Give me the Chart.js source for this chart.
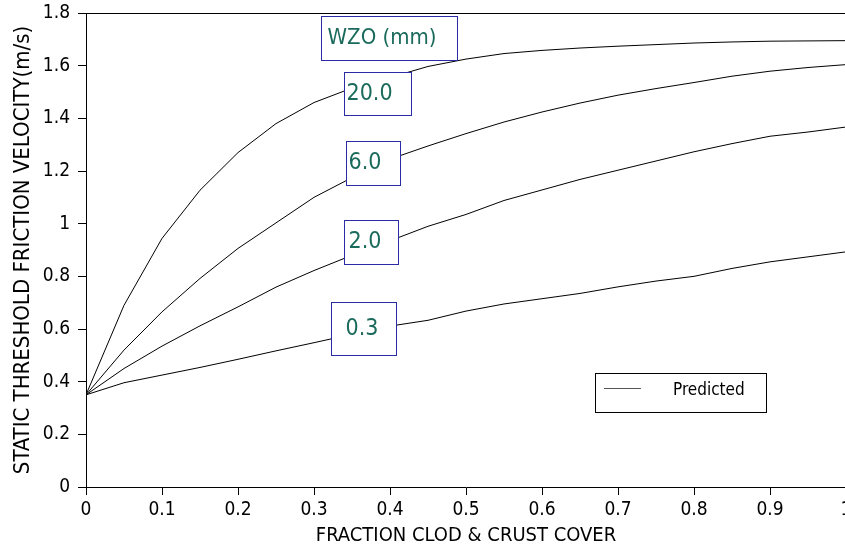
<!DOCTYPE html>
<html>
<head>
<meta charset="utf-8">
<script src="https://cdn.jsdelivr.net/npm/chart.js@4"></script>
<style>
  html, body { margin: 0; padding: 0; background: #fff; overflow: hidden; }
  #wrap { position: absolute; left: 0; top: 0; width: 880px; height: 548px; }
</style>
</head>
<body>
<div id="wrap"><canvas id="chart"></canvas></div>
<script>
// fraction clod & crust cover (x knots of the plotted curves)
const cover = [0, 0.05, 0.1, 0.15, 0.2, 0.25, 0.3, 0.35, 0.4, 0.45, 0.5,
  0.55, 0.6, 0.65, 0.7, 0.75, 0.8, 0.85, 0.9, 0.95, 1]

// static threshold friction velocity (m/s), one list per WZO
const wzo20 = [0.35, 0.69, 0.944, 1.127, 1.27, 1.38, 1.46, 1.515, 1.555, 1.597, 1.625,
  1.646, 1.658, 1.667, 1.674, 1.68, 1.686, 1.69, 1.693, 1.694, 1.695]
const wzo6 = [0.35, 0.52, 0.665, 0.792, 0.906, 1.003, 1.1, 1.175, 1.245, 1.295, 1.342,
  1.386, 1.424, 1.458, 1.488, 1.513, 1.536, 1.56, 1.579, 1.593, 1.604]
const wzo2 = [0.35, 0.45, 0.535, 0.612, 0.684, 0.759, 0.822, 0.88, 0.935, 0.99, 1.035,
  1.088, 1.128, 1.168, 1.203, 1.238, 1.273, 1.304, 1.332, 1.348, 1.367]
const wzo03 = [0.35, 0.396, 0.425, 0.454, 0.485, 0.517, 0.548, 0.58, 0.611, 0.633, 0.668,
  0.695, 0.715, 0.735, 0.76, 0.782, 0.8, 0.83, 0.855, 0.874, 0.893]

const curveLabels = ['20.0', '6.0', '2.0', '0.3']

const xTicks = [0, 0.1, 0.2, 0.3, 0.4, 0.5, 0.6, 0.7, 0.8, 0.9, 1]
const xTickLabels = ['0', '0.1', '0.2', '0.3', '0.4', '0.5', '0.6', '0.7', '0.8', '0.9', '1']
const yTicks = [0, 0.2, 0.4, 0.6, 0.8, 1, 1.2, 1.4, 1.6, 1.8]
const yTickLabels = ['0', '0.2', '0.4', '0.6', '0.8', '1', '1.2', '1.4', '1.6', '1.8']

const FONT = "'DejaVu Sans Condensed', 'DejaVu Sans', sans-serif"

// annotation boxes: top-left corner in data units, size in px
const labelBoxes = [
  { text: 'WZO (mm)', x: 0.309, y: 1.789, w: 136, h: 44, dx: 6, size: 22 },
  { text: curveLabels[0], x: 0.339, y: 1.576, w: 67, h: 43, dx: 2, size: 23 },
  { text: curveLabels[1], x: 0.342, y: 1.314, w: 54, h: 44, dx: 2, size: 23 },
  { text: curveLabels[2], x: 0.339, y: 1.014, w: 54, h: 44, dx: 4, size: 23 },
  { text: curveLabels[3], x: 0.322, y: 0.703, w: 65, h: 53, dx: 14, size: 23 },
]

const notes = {
  id: 'notes',
  afterDatasetsDraw(chart) {
    const { ctx, chartArea, scales: { x, y } } = chart
    ctx.save()
    ctx.lineWidth = 1
    ctx.strokeStyle = '#000'
    ctx.beginPath()
    ctx.moveTo(chartArea.left, chartArea.top + 0.5)
    ctx.lineTo(chartArea.right, chartArea.top + 0.5)
    ctx.stroke()

    for (const b of labelBoxes) {
      const left = Math.round(x.getPixelForValue(b.x)) + 0.5
      const top = Math.round(y.getPixelForValue(b.y)) + 0.5
      ctx.fillStyle = '#fff'
      ctx.fillRect(left, top, b.w, b.h)
      ctx.strokeStyle = '#2b2ba6'
      ctx.strokeRect(left, top, b.w, b.h)
      ctx.fillStyle = '#1b6b5c'
      ctx.font = `${b.size}px ${FONT}`
      ctx.textAlign = 'left'
      ctx.textBaseline = 'middle'
      ctx.fillText(b.text, left + b.dx, top + b.h / 2)
    }

    // legend box
    ctx.strokeStyle = '#000'
    ctx.strokeRect(595.5, 373.5, 171, 39)
    ctx.strokeStyle = '#555'
    ctx.beginPath()
    ctx.moveTo(604, 388.5)
    ctx.lineTo(641, 388.5)
    ctx.stroke()
    ctx.fillStyle = '#000'
    ctx.font = `17px ${FONT}`
    ctx.textBaseline = 'middle'
    ctx.fillText('Predicted', 673, 391)
    ctx.restore()
  },
}

const series = [wzo20, wzo6, wzo2, wzo03]

new Chart(document.getElementById('chart'), {
  type: 'line',
  data: {
    datasets: series.map((vals, i) => ({
      label: 'WZO ' + curveLabels[i],
      data: cover.map((c, j) => ({ x: c, y: vals[j] })),
      borderColor: '#000',
      borderWidth: 1,
      pointRadius: 0,
      tension: 0,
      fill: false,
    })),
  },
  options: {
    responsive: true,
    maintainAspectRatio: false,
    animation: false,
    layout: { padding: { left: 0, right: 34, top: 13, bottom: 0 } },
    plugins: { legend: { display: false }, tooltip: { enabled: false } },
    scales: {
      x: {
        type: 'linear',
        min: 0,
        max: 1,
        afterBuildTicks: s => { s.ticks = xTicks.map(v => ({ value: v })) },
        afterFit: s => { s.height = 61; s.paddingLeft = 0; s.paddingRight = 0 },
        ticks: {
          callback: (v, i) => xTickLabels[i],
          font: { family: FONT, size: 19 },
          color: '#000',
          padding: 4,
          maxRotation: 0,
          autoSkip: false,
        },
        grid: { drawOnChartArea: false, tickLength: 8, color: '#000' },
        border: { color: '#000', width: 1 },
        title: {
          display: true,
          text: 'FRACTION CLOD & CRUST COVER',
          font: { family: FONT, size: 20 },
          color: '#000',
          padding: { top: 0, bottom: 0 },
        },
      },
      y: {
        min: 0,
        max: 1.8,
        afterBuildTicks: s => { s.ticks = yTicks.map(v => ({ value: v })) },
        afterFit: s => { s.width = 86; s.paddingTop = 0; s.paddingBottom = 0 },
        ticks: {
          callback: (v, i) => yTickLabels[i],
          font: { family: FONT, size: 19 },
          color: '#000',
          padding: 8,
          autoSkip: false,
        },
        grid: { drawOnChartArea: false, tickLength: 8, color: '#000' },
        border: { color: '#000', width: 1 },
        title: {
          display: true,
          text: 'STATIC THRESHOLD FRICTION VELOCITY(m/s)',
          font: { family: FONT, size: 22 },
          color: '#000',
          padding: { top: 10, bottom: 0 },
        },
      },
    },
  },
  plugins: [notes],
})
</script>
</body>
</html>
